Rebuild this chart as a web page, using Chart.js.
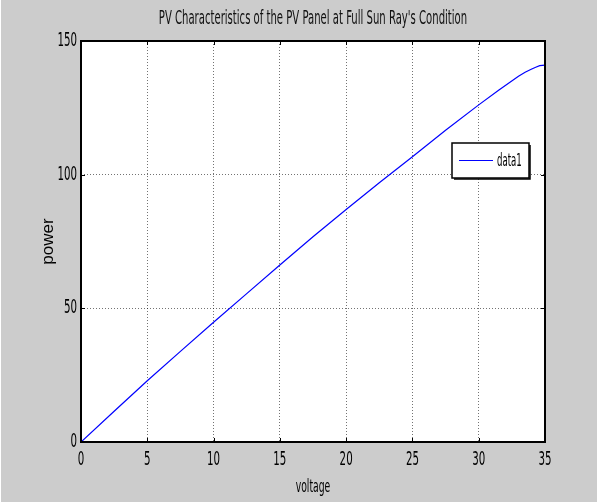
<!DOCTYPE html>
<html>
<head>
<meta charset="utf-8">
<script src="https://cdn.jsdelivr.net/npm/chart.js@4"></script>
<style>
  html, body { margin: 0; padding: 0; background: #fff; }
  #wrap { margin-left: 1px; width: 596px; height: 502px; background: #cccccc; }
  canvas { display: block; }
</style>
</head>
<body>
<div id="wrap"><canvas id="pv" width="596" height="502"></canvas></div>
<script>
// PV panel power curve, full sun
const voltage = [0, 2.5, 5, 7.5, 10, 12.5, 15, 17.5, 20, 22.5, 25, 27.5, 30, 31.5, 33, 33.5, 34, 34.3, 34.6, 35];
const power = [0, 11.5, 22.9, 33.9, 44.8, 55.5, 66.2, 76.8, 87.0, 97.0, 106.7, 116.6, 126.1, 131.6, 136.8, 138.3, 139.5, 140.2, 140.8, 141];
const xTicks = [0, 5, 10, 15, 20, 25, 30, 35];
const yTicks = [0, 50, 100, 150];

const titleText = "PV Characteristics of the PV Panel at Full Sun Ray's Condition";
const xLabel = "voltage";
const yLabel = "power";

const COND = "'DejaVu Sans Condensed', 'DejaVu Sans', sans-serif";

// condensed text: squeeze horizontally so labels come out tall and narrow
function narrow(ctx, text, x, y, size, sx, align, color) {
  ctx.save();
  ctx.translate(x, y);
  ctx.scale(sx, 1);
  ctx.font = size + "px " + COND;
  ctx.fillStyle = color || "#000";
  ctx.textAlign = align;
  ctx.textBaseline = "middle";
  ctx.fillText(text, 0, 0);
  ctx.restore();
}

// white plot box, black frame and inward tick marks on all four sides
const axesBox = {
  id: "axesBox",
  beforeDraw(chart) {
    const { ctx, chartArea: a } = chart;
    ctx.save();
    ctx.fillStyle = "#fff";
    ctx.fillRect(a.left, a.top, a.right - a.left, a.bottom - a.top);
    ctx.restore();
  },
  afterDatasetsDraw(chart) {
    const { ctx, chartArea: a, scales } = chart;
    ctx.save();
    ctx.strokeStyle = "#000";
    ctx.lineWidth = 1;
    ctx.beginPath();
    xTicks.forEach(v => {
      const x = Math.round(scales.x.getPixelForValue(v)) + 0.5;
      ctx.moveTo(x, a.bottom); ctx.lineTo(x, a.bottom - 4);
      ctx.moveTo(x, a.top); ctx.lineTo(x, a.top + 4);
    });
    yTicks.forEach(v => {
      const y = Math.round(scales.y.getPixelForValue(v)) + 0.5;
      ctx.moveTo(a.left, y); ctx.lineTo(a.left + 4, y);
      ctx.moveTo(a.right, y); ctx.lineTo(a.right - 4, y);
    });
    ctx.stroke();
    ctx.lineWidth = 2;
    ctx.strokeRect(a.left, a.top, a.right - a.left, a.bottom - a.top);
    ctx.restore();
  }
};

// title, tick labels and x label in the narrow face
const labels = {
  id: "labels",
  afterDraw(chart) {
    const { ctx, chartArea: a, scales } = chart;
    const cx = (a.left + a.right) / 2;
    narrow(ctx, titleText, cx, 19, 19, 0.59, "center", "#111");
    xTicks.forEach(v => {
      narrow(ctx, String(v), scales.x.getPixelForValue(v), a.bottom + 18, 19, 0.6, "center");
    });
    yTicks.forEach(v => {
      narrow(ctx, String(v), a.left - 4, scales.y.getPixelForValue(v), 19, 0.6, "right");
    });
    narrow(ctx, xLabel, cx, a.bottom + 45, 18, 0.57, "center");
  }
};

// legend drawn inside the axes, upper right
const insideLegend = {
  id: "insideLegend",
  afterDraw(chart) {
    const { ctx, chartArea: a } = chart;
    const ds = chart.data.datasets[0];
    const w = 77, h = 35;
    const x = a.right - 16 - w, y = a.top + 102;
    ctx.save();
    ctx.fillStyle = "#fff";
    ctx.fillRect(x, y, w, h);
    ctx.strokeStyle = "#000";
    ctx.lineWidth = 1.5;
    ctx.strokeRect(x, y, w, h);
    ctx.beginPath();
    ctx.moveTo(x + w + 1, y + 2); ctx.lineTo(x + w + 1, y + h + 1); ctx.lineTo(x + 2, y + h + 1);
    ctx.stroke();
    ctx.strokeStyle = ds.borderColor;
    ctx.lineWidth = 1.2;
    ctx.beginPath();
    ctx.moveTo(x + 7, y + h / 2); ctx.lineTo(x + 41, y + h / 2);
    ctx.stroke();
    ctx.restore();
    narrow(ctx, ds.label, x + 45, y + h / 2 + 1, 18, 0.53, "left");
  }
};

const dotted = {
  display: true,
  drawTicks: false,
  color: "rgba(0,0,0,0.55)",
  lineWidth: 1
};

new Chart(document.getElementById("pv"), {
  type: "line",
  data: {
    datasets: [{
      label: "data1",
      data: voltage.map((v, i) => ({ x: v, y: power[i] })),
      borderColor: "#0000ff",
      borderWidth: 1.2,
      pointRadius: 0,
      tension: 0,
      fill: false
    }]
  },
  options: {
    responsive: false,
    animation: false,
    layout: { padding: { left: 0, right: 52, top: 41, bottom: 0 } },
    scales: {
      x: {
        type: "linear",
        min: 0,
        max: 35,
        afterBuildTicks: s => { s.ticks = xTicks.map(v => ({ value: v })); },
        afterFit: s => { s.height = 60; },
        grid: dotted,
        border: { display: false, dash: [1, 2] },
        ticks: { display: false }
      },
      y: {
        min: 0,
        max: 150,
        afterBuildTicks: s => { s.ticks = yTicks.map(v => ({ value: v })); },
        afterFit: s => { s.width = 80; },
        grid: dotted,
        border: { display: false, dash: [1, 2] },
        ticks: { display: false },
        title: { display: true, text: yLabel, color: "#000", padding: { top: 37, bottom: 0 },
                 font: { family: "'Liberation Sans', Arial, sans-serif", size: 17 } }
      }
    },
    plugins: {
      legend: { display: false },
      tooltip: { enabled: false },
      title: { display: false }
    }
  },
  plugins: [axesBox, labels, insideLegend]
});
</script>
</body>
</html>
